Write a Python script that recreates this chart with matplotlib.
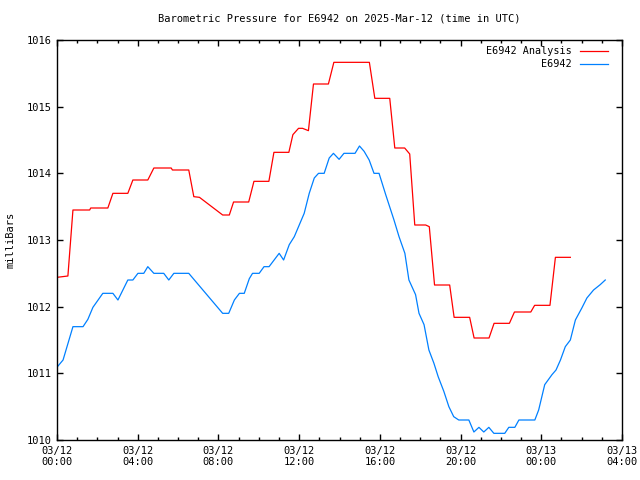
import matplotlib
matplotlib.use("Agg")
import matplotlib.pyplot as plt
import numpy as np

# Analysis series (hours since 03/12 00:00 UTC, mbar)
analysis_hours = [0.0, 0.54, 0.79, 1.62, 1.67, 2.52, 2.77, 3.51, 3.76, 4.50, 4.80, 5.66, 5.72,
                  6.53, 6.78, 7.06, 8.21, 8.54, 8.75, 9.50, 9.76, 10.50, 10.75, 11.49, 11.69,
                  11.97, 12.17, 12.46, 12.71, 13.45, 13.72, 15.48, 15.75, 16.49, 16.74, 17.23,
                  17.48, 17.73, 18.27, 18.45, 18.71, 19.46, 19.68, 20.45, 20.67, 21.41, 21.66,
                  22.42, 22.67, 23.48, 23.67, 24.43, 24.70, 25.44]
analysis_vals = [1012.44, 1012.46, 1013.45, 1013.45, 1013.48, 1013.48, 1013.70, 1013.70, 1013.90,
                 1013.90, 1014.08, 1014.08, 1014.05, 1014.05, 1013.65, 1013.64, 1013.375,
                 1013.375, 1013.57, 1013.57, 1013.88, 1013.88, 1014.315, 1014.315, 1014.58,
                 1014.675, 1014.675, 1014.64, 1015.34, 1015.34, 1015.665, 1015.665, 1015.125,
                 1015.125, 1014.38, 1014.38, 1014.29, 1013.225, 1013.225, 1013.20, 1012.325,
                 1012.325, 1011.84, 1011.84, 1011.53, 1011.53, 1011.75, 1011.75, 1011.92,
                 1011.92, 1012.02, 1012.02, 1012.74, 1012.74]

# Observed series
obs_hours = [0.05, 0.30, 0.79, 1.29, 1.53, 1.78, 2.27, 2.77, 3.02, 3.51, 3.76, 4.01, 4.30, 4.50,
             4.80, 5.29, 5.54, 5.79, 6.53, 8.21, 8.51, 8.79, 9.04, 9.28, 9.53, 9.69, 10.02,
             10.26, 10.51, 11.01, 11.23, 11.51, 11.76, 12.25, 12.50, 12.75, 12.96, 13.24,
             13.49, 13.70, 13.98, 14.22, 14.77, 14.99, 15.22, 15.47, 15.71, 15.96, 16.29,
             16.70, 16.95, 17.24, 17.44, 17.77, 17.94, 18.19, 18.43, 18.68, 18.89, 19.17,
             19.42, 19.66, 19.91, 20.41, 20.66, 20.91, 21.15, 21.40, 21.65, 22.19, 22.39,
             22.69, 22.89, 23.68, 23.87, 24.17, 24.53, 24.73, 24.95, 25.19, 25.44, 25.69,
             26.01, 26.26, 26.59, 26.92, 27.17]
obs_vals = [1011.11, 1011.20, 1011.70, 1011.70, 1011.81, 1011.99, 1012.20, 1012.20, 1012.10,
            1012.40, 1012.40, 1012.50, 1012.50, 1012.60, 1012.50, 1012.50, 1012.40, 1012.50,
            1012.50, 1011.90, 1011.90, 1012.10, 1012.20, 1012.20, 1012.42, 1012.50, 1012.50,
            1012.60, 1012.60, 1012.80, 1012.70, 1012.93, 1013.05, 1013.40, 1013.70, 1013.93,
            1014.00, 1014.00, 1014.23, 1014.30, 1014.21, 1014.30, 1014.30, 1014.41, 1014.33,
            1014.20, 1014.00, 1014.00, 1013.68, 1013.30, 1013.05, 1012.80, 1012.40, 1012.18,
            1011.90, 1011.73, 1011.35, 1011.15, 1010.95, 1010.73, 1010.50, 1010.35, 1010.30,
            1010.30, 1010.12, 1010.19, 1010.12, 1010.19, 1010.10, 1010.10, 1010.19, 1010.19,
            1010.30, 1010.30, 1010.45, 1010.83, 1010.98, 1011.05, 1011.20, 1011.40, 1011.50,
            1011.80, 1011.98, 1012.13, 1012.25, 1012.33, 1012.40]

tick_hours = [0, 4, 8, 12, 16, 20, 24, 28]
tick_labels = ["03/12\n00:00", "03/12\n04:00", "03/12\n08:00", "03/12\n12:00",
               "03/12\n16:00", "03/12\n20:00", "03/13\n00:00", "03/13\n04:00"]
y_ticks = [1010, 1011, 1012, 1013, 1014, 1015, 1016]

plt.rcParams['font.family'] = ['DejaVu Sans Mono']
fig = plt.figure(figsize=(6.4, 4.8), dpi=100)
ax = fig.add_axes([57/640, 40/480, 565/640, 400/480])

ax.plot(analysis_hours, analysis_vals, color='#ff0000', lw=0.9, label='E6942 Analysis')
ax.plot(obs_hours, obs_vals, color='#0080ff', lw=0.9, label='E6942')

ax.set_xlim(0, 28)
ax.set_ylim(1010, 1016)
ax.set_xticks(tick_hours)
ax.set_xticklabels(tick_labels, fontsize=7.5)
ax.set_xticks(np.arange(0, 29, 1), minor=True)
ax.set_yticks(y_ticks)
ax.set_yticklabels([str(v) for v in y_ticks], fontsize=7.5)
ax.tick_params(which='both', direction='in', top=True, right=True, width=1, color='black')
ax.tick_params(which='major', length=4, pad=4)
ax.tick_params(which='minor', length=2.5)
for s in ax.spines.values():
    s.set_linewidth(1)

ax.set_ylabel('milliBars', fontsize=7.5, labelpad=8)
ax.set_title('Barometric Pressure for E6942 on 2025-Mar-12 (time in UTC)', fontsize=7.5, pad=13)

leg = ax.legend(loc='upper right', bbox_to_anchor=(1 - 8/565, 1.0), frameon=False,
                markerfirst=False, fontsize=7.3,
                handlelength=2.8, handletextpad=0.75, labelspacing=0.3,
                borderaxespad=0.2, borderpad=0.4)

fig.savefig('out.png', dpi=100)
